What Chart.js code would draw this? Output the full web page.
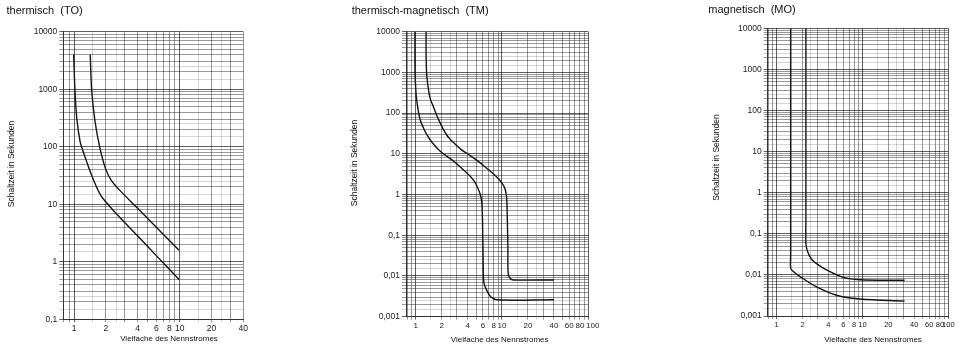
<!DOCTYPE html>
<html>
<head>
<meta charset="utf-8">
<title>Auslösekennlinien</title>
<script src="https://cdn.jsdelivr.net/npm/chart.js@4.4.1/dist/chart.umd.min.js"></script>
<style>
  html, body { margin: 0; padding: 0; background: #fff; }
  #wrap { position: relative; width: 961px; height: 347px; overflow: hidden; }
  #wrap canvas { position: absolute; top: 0; }
</style>
</head>
<body>
<div id="wrap">
  <canvas id="chartTO" width="320" height="347" style="left:0px"></canvas>
  <canvas id="chartTM" width="320" height="347" style="left:320px"></canvas>
  <canvas id="chartMO" width="321" height="347" style="left:640px"></canvas>
</div>
<script>
// Kennlinien: x = Vielfache des Nennstromes, t = Schaltzeit in Sekunden

// thermisch (TO)
var toLinksX  = [0.99, 1.02, 1.06, 1.14, 1.22, 1.32, 1.42, 1.52, 1.64, 1.8, 2.03, 2.4, 4, 6, 9.86];
var toLinksT  = [4000, 910, 310, 123, 82, 54, 37, 27, 19.5, 14, 10.6, 7.5, 2.8, 1.28, 0.49];
var toRechtsX = [1.42, 1.47, 1.58, 1.76, 2.0, 2.25, 2.6, 4, 6, 9.86];
var toRechtsT = [4000, 910, 270, 93, 40, 26, 18.9, 8.5, 4.0, 1.58];

// thermisch-magnetisch (TM)
var tmLinksX  = [0.98, 0.98, 0.995, 1.03, 1.12, 1.22, 1.34, 1.55, 1.91, 2.7, 3.26, 4.65, 5.56, 5.85, 5.98, 6.05, 6.1, 6.2, 6.64, 7.4, 8.7, 40];
var tmLinksT  = [10000, 1500, 500, 200, 72, 45, 30, 19, 11.8, 6.8, 4.8, 2.3, 1.06, 0.6, 0.1, 0.02, 0.0085, 0.0065, 0.0045, 0.0031, 0.0026, 0.0026];
var tmRechtsX = [1.32, 1.32, 1.34, 1.39, 1.47, 1.6, 1.75, 1.9, 2.09, 2.29, 2.5, 2.7, 3.41, 4.2, 5.09, 6.5, 8.7, 10.0, 10.8, 11.3, 11.5, 11.7, 11.8, 12.4, 13.5, 40];
var tmRechtsT = [10000, 3000, 900, 450, 230, 145, 89, 60, 40, 29, 23, 19.5, 12.5, 9.3, 7, 4.6, 2.7, 1.9, 1.41, 0.88, 0.3, 0.05, 0.0114, 0.0088, 0.008, 0.008];

// magnetisch (MO)
var moLinksX  = [1.455, 1.455, 1.455, 1.55, 1.87, 2.92, 4.99, 9.3, 31];
var moLinksT  = [10000, 0.03, 0.0145, 0.0122, 0.0091, 0.0051, 0.0032, 0.0026, 0.0023];
var moRechtsX = [2.19, 2.19, 2.19, 2.28, 2.55, 3.0, 3.81, 5.96, 9.3, 31];
var moRechtsT = [10000, 0.2, 0.06, 0.038, 0.024, 0.018, 0.0132, 0.0087, 0.0076, 0.0074];

// Achsbeschriftungen
var xLabelsTO = [1, 2, 4, 6, 8, 10, 20, 40];
var xLabelsTM = [1, 2, 4, 6, 8, 10, 20, 40, 60, 80, 100];
var xLabelsMO = [1, 2, 4, 6, 8, 10, 20, 40, 60, 80, 100];
var yLabelsTO = [0.1, 1, 10, 100, 1000, 10000];
var yLabelsTM = [0.001, 0.01, 0.1, 1, 10, 100, 1000, 10000];
var yLabelsMO = [0.001, 0.01, 0.1, 1, 10, 100, 1000, 10000];

var HOEHE = 347;
var SCHRIFT = '"Liberation Sans", Arial, Helvetica, sans-serif';
Chart.defaults.font.family = SCHRIFT;

// Millimeterpapier: Linien je Dekade
var MANTISSEN = [1, 1.5, 2, 2.5, 3, 4, 5, 6, 7, 8, 9];
var DEKADEN = [0.001, 0.01, 0.1, 1, 10, 100, 1000, 10000];

function gitter(min, max) {
  var werte = [];
  DEKADEN.forEach(function (d) {
    MANTISSEN.forEach(function (m) {
      var v = +(m * d).toPrecision(6);
      if (v >= min * 0.999 && v <= max * 1.001) {
        werte.push({ value: v, stufe: m === 1 ? 2 : (m % 1 === 0 ? 1 : 0) });
      }
    });
  });
  return werte;
}

function linienFarbe(c) {
  var s = c.tick ? c.tick.stufe : 1;
  if (s === 2) return 'rgba(0,0,0,0.62)';
  if (s === 1) return 'rgba(0,0,0,0.4)';
  return 'rgba(0,0,0,0.16)';
}

function hatWert(liste, v) {
  return liste.some(function (w) { return Math.abs(w - v) / w < 1e-6; });
}

function zahl(v) {
  return String(v).replace('.', ',');
}

// Überschrift und Achsentitel
var beschriftung = {
  id: 'beschriftung',
  afterDraw: function (chart) {
    var o = chart.options.plugins.beschriftung;
    var ctx = chart.ctx;
    ctx.save();
    ctx.fillStyle = '#111';
    ctx.textBaseline = 'middle';
    ctx.textAlign = 'left';
    ctx.font = '11px ' + SCHRIFT;
    ctx.fillText(o.titel, o.titelX - o.x0, o.titelY);
    ctx.textAlign = 'center';
    ctx.font = '8px ' + SCHRIFT;
    ctx.fillText('Vielfache des Nennstromes', o.xTitelX - o.x0, o.xTitelY);
    ctx.translate(o.yTitelX - o.x0, o.yTitelY);
    ctx.rotate(-Math.PI / 2);
    ctx.font = '8.5px ' + SCHRIFT;
    ctx.fillText('Schaltzeit in Sekunden', 0, 0);
    ctx.restore();
  }
};

function zeichne(id, k) {
  var xGitter = gitter(k.xMin, k.xMax);
  var yGitter = gitter(k.yMin, k.yMax);
  new Chart(document.getElementById(id), {
    type: 'scatter',
    data: {
      datasets: k.kurven.map(function (c) {
        return {
          data: c[0].map(function (x, i) { return { x: x, y: c[1][i] }; }),
          showLine: true,
          borderColor: '#141414',
          borderWidth: 1.4,
          pointRadius: 0,
          tension: 0.35,
          fill: false
        };
      })
    },
    options: {
      responsive: false,
      animation: false,
      events: [],
      layout: { padding: { left: 0, top: k.oben, right: k.x0 + k.breite - k.rechts, bottom: 0 } },
      plugins: {
        legend: { display: false },
        tooltip: { enabled: false },
        beschriftung: {
          x0: k.x0, titel: k.titel, titelX: k.titelX, titelY: k.titelY,
          xTitelX: k.xTitelX, xTitelY: k.xTitelY, yTitelX: k.yTitelX, yTitelY: k.yTitelY
        }
      },
      scales: {
        x: {
          type: 'logarithmic',
          min: k.xMin,
          max: k.xMax,
          afterBuildTicks: function (s) { s.ticks = xGitter.map(function (t) { return { value: t.value, stufe: t.stufe }; }); },
          afterFit: function (s) { s.height = HOEHE - k.unten; },
          ticks: {
            autoSkip: false, maxRotation: 0, minRotation: 0, padding: 1,
            color: '#222', font: { size: k.xSchrift },
            callback: function (v) {
              if (!hatWert(k.xLabels, v)) return '';
              // "100" am rechten Rand etwas nach rechts rücken
              return (v === 100 && k.rand100) ? k.rand100 + '100' : zahl(v);
            }
          },
          grid: { color: linienFarbe, lineWidth: 1, tickLength: 3 },
          border: { color: '#333' }
        },
        y: {
          type: 'logarithmic',
          min: k.yMin,
          max: k.yMax,
          afterBuildTicks: function (s) { s.ticks = yGitter.map(function (t) { return { value: t.value, stufe: t.stufe }; }); },
          afterFit: function (s) { s.width = k.links - k.x0; },
          ticks: {
            autoSkip: false, padding: 2,
            color: '#222', font: { size: 8.5 },
            callback: function (v) { return hatWert(k.yLabels, v) ? zahl(v) : ''; }
          },
          grid: { color: linienFarbe, lineWidth: 1, tickLength: 4 },
          border: { color: '#333' }
        }
      }
    },
    plugins: [beschriftung]
  });
}

zeichne('chartTO', {
  x0: 0, breite: 320, links: 63.3, rechts: 243.3, oben: 31.7, unten: 319.3,
  xMin: 0.79, xMax: 40, yMin: 0.1, yMax: 10000,
  xLabels: xLabelsTO, yLabels: yLabelsTO, xSchrift: 8.5,
  titel: 'thermisch  (TO)', titelX: 6.5, titelY: 11,
  xTitelX: 169, xTitelY: 339, yTitelX: 12, yTitelY: 164,
  kurven: [[toLinksX, toLinksT], [toRechtsX, toRechtsT]]
});

zeichne('chartTM', {
  x0: 320, breite: 320, links: 406, rechts: 588.3, oben: 31.7, unten: 316.7,
  xMin: 0.772, xMax: 100, yMin: 0.001, yMax: 10000,
  xLabels: xLabelsTM, yLabels: yLabelsTM, xSchrift: 8, rand100: '    ',
  titel: 'thermisch-magnetisch  (TM)', titelX: 351.7, titelY: 11,
  xTitelX: 499.7, xTitelY: 340, yTitelX: 355, yTitelY: 163,
  kurven: [[tmLinksX, tmLinksT], [tmRechtsX, tmRechtsT]]
});

zeichne('chartMO', {
  x0: 640, breite: 321, links: 767.7, rechts: 948.3, oben: 28.3, unten: 316,
  xMin: 0.786, xMax: 100, yMin: 0.001, yMax: 10000,
  xLabels: xLabelsMO, yLabels: yLabelsMO, xSchrift: 7.5,
  titel: 'magnetisch  (MO)', titelX: 708.3, titelY: 10,
  xTitelX: 873, xTitelY: 340, yTitelX: 716.7, yTitelY: 157.5,
  kurven: [[moLinksX, moLinksT], [moRechtsX, moRechtsT]]
});
</script>
</body>
</html>
